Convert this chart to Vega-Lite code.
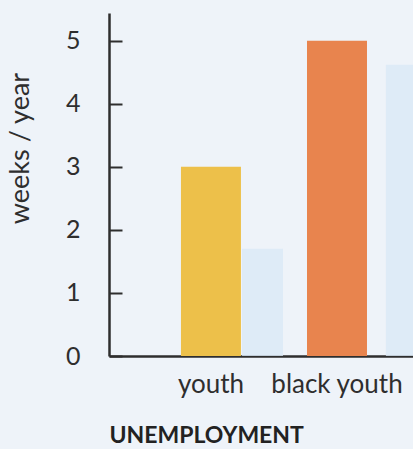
{
  "$schema": "https://vega.github.io/schema/vega-lite/v6.json",
  "width": 304,
  "height": 343,
  "autosize": {"type": "none"},
  "padding": {"left": 109, "top": 13, "right": 0, "bottom": 93},
  "background": "#eef3f9",
  "config": {"view": {"stroke": null}, "font": "Lato"},
  "datasets": {
    "main": [
      {"group": "youth", "weeks": 3},
      {"group": "black youth", "weeks": 5}
    ],
    "faint": [
      {"start": 0.246, "end": 0.571, "weeks": 1.7},
      {"start": 1.388, "end": 1.75, "weeks": 4.62}
    ]
  },
  "layer": [
    {
      "data": {"name": "faint"},
      "mark": {"type": "rect", "color": "#d9e9f6", "opacity": 0.8, "clip": true},
      "encoding": {
        "x": {"field": "start", "type": "quantitative", "scale": {"domain": [-0.81, 1.603], "nice": false, "zero": false}, "axis": null},
        "x2": {"field": "end"},
        "y": {
          "field": "weeks", "type": "quantitative", "scale": {"domain": [0, 5.44], "nice": false},
          "axis": {
            "title": "weeks / year", "values": [0, 1, 2, 3, 4, 5], "format": "d", "grid": false,
            "domainColor": "#2e2e2e", "domainWidth": 2.5, "tickColor": "#2e2e2e", "tickWidth": 2,
            "tickSize": -13, "labelFontSize": 25, "labelColor": "#2e2e2e", "labelPadding": 42,
            "titleFontSize": 27, "titleFontWeight": "normal", "titleColor": "#2e2e2e",
            "titlePadding": 31, "titleY": 135
          }
        },
        "y2": {"datum": 0}
      }
    },
    {
      "data": {"name": "main"},
      "mark": {"type": "bar"},
      "encoding": {
        "x": {
          "field": "group", "type": "nominal", "sort": ["youth", "black youth"],
          "scale": {"paddingInner": 0.524, "paddingOuter": 0.468, "align": 0.61},
          "axis": {
            "title": "UNEMPLOYMENT", "titleAnchor": "start", "titleFontWeight": "bold",
            "titleFontSize": 23, "titleColor": "#222", "titlePadding": 27,
            "labelAngle": 0, "labelFontSize": 26, "labelColor": "#2e2e2e", "labelPadding": 15,
            "ticks": false, "domainColor": "#2e2e2e", "domainWidth": 2.5
          }
        },
        "y": {"field": "weeks", "type": "quantitative"},
        "color": {"field": "group", "type": "nominal", "scale": {"domain": ["youth", "black youth"], "range": ["#edc04a", "#e8844e"]}, "legend": null}
      }
    }
  ],
  "resolve": {"scale": {"x": "independent"}}
}
